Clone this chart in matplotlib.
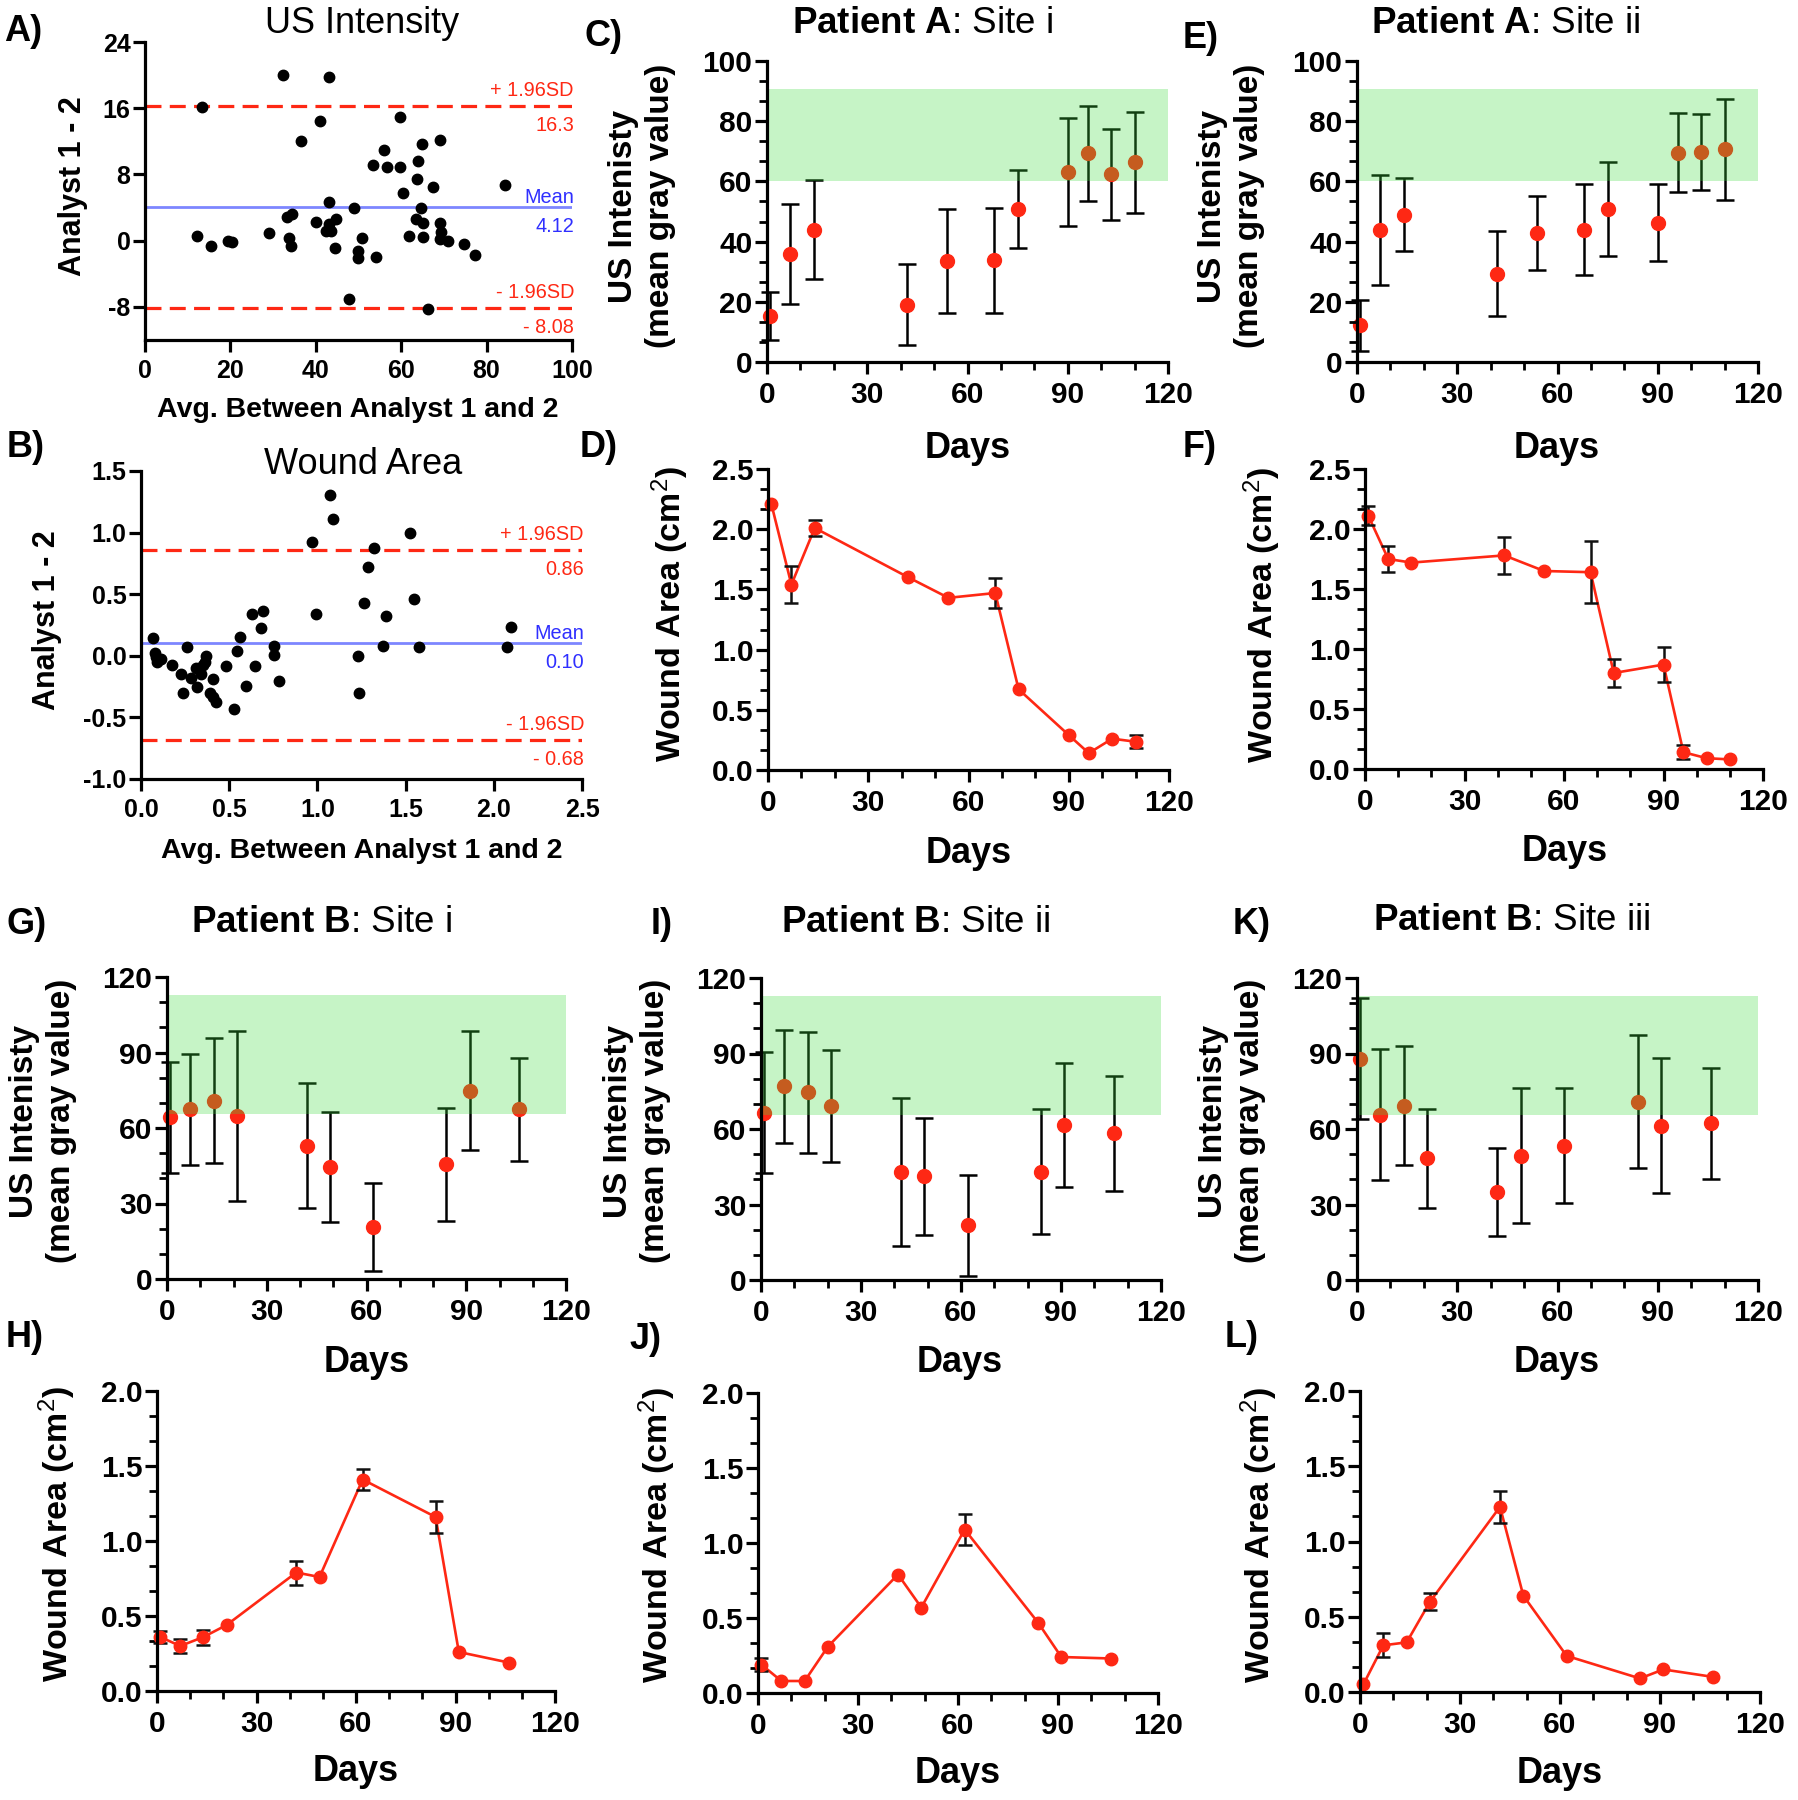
import numpy as np
import matplotlib
matplotlib.use('Agg')
import matplotlib.pyplot as plt
from matplotlib.ticker import MultipleLocator

plt.rcParams.update({
    'font.family': ['Liberation Sans', 'DejaVu Sans'],
    'mathtext.fontset': 'custom',
    'mathtext.rm': 'Liberation Sans',
    'mathtext.bf': 'Liberation Sans:bold',
    'mathtext.it': 'Liberation Sans:italic',
    'axes.unicode_minus': False,
})

# ---------------- data ----------------
# Bland-Altman: US intensity
ba_us_avg = [12.1, 13.3, 15.5, 19.5, 20.4, 29.0, 32.4, 33.2, 34.5, 33.8, 34.1, 36.6, 40.0, 41.1, 43.2,
             43.0, 42.3, 43.0, 43.6, 44.8, 44.6, 48.9, 47.8, 49.8, 49.9, 50.9, 54.1, 53.4, 55.9, 56.7,
             59.8, 59.8, 60.5, 61.9, 63.9, 63.8, 63.5, 64.8, 64.7, 65.0, 65.0, 66.2, 67.5, 69.0, 69.1,
             69.3, 69.1, 70.9, 74.6, 77.4, 84.3]
ba_us_diff = [0.6, 16.2, -0.6, -0.1, -0.2, 0.9, 20.0, 2.9, 3.2, 0.3, -0.6, 12.0, 2.2, 14.4, 19.8,
              4.7, 1.2, 2.0, 1.2, 2.6, -0.9, 3.9, -7.1, -1.3, -2.1, 0.3, -2.0, 9.2, 11.0, 8.9,
              8.9, 14.9, 5.7, 0.6, 9.6, 7.5, 2.6, 11.7, 3.9, 2.1, 0.5, -8.3, 6.5, 12.2, 2.1,
              1.0, 0.2, -0.1, -0.4, -1.7, 6.7]
ba_us_lines = [16.3, 4.12, -8.08]
ba_us_labels = ['16.3', '4.12', '- 8.08']

# Bland-Altman: wound area
ba_wa_avg = [0.069, 0.080, 0.091, 0.113, 0.087, 0.178, 0.228, 0.260, 0.239, 0.286,
             0.312, 0.319, 0.341, 0.352, 0.369, 0.362, 0.391, 0.406, 0.428, 0.406,
             0.482, 0.525, 0.547, 0.562, 0.595, 0.629, 0.645, 0.681, 0.694, 0.753,
             0.755, 0.781, 0.972, 0.992, 1.072, 1.089, 1.230, 1.237, 1.267, 1.289,
             1.319, 1.372, 1.389, 1.524, 1.546, 1.578, 2.077, 2.098]
ba_wa_diff = [0.141, 0.019, -0.049, -0.022, -0.008, -0.076, -0.144, 0.068, -0.301, -0.184,
              -0.103, -0.252, -0.144, -0.076, -0.003, -0.049, -0.306, -0.192, -0.374, -0.333,
              -0.081, -0.428, 0.041, 0.154, -0.247, 0.339, -0.081, 0.222, 0.363, 0.081,
              0.005, -0.203, 0.927, 0.339, 1.306, 1.111, 0.0, -0.301, 0.431, 0.718,
              0.873, 0.081, 0.322, 1.0, 0.458, 0.068, 0.073, 0.236]
ba_wa_lines = [0.86, 0.10, -0.68]
ba_wa_labels = ['0.86', '0.10', '- 0.68']

# Patient A
days_A = [1, 7, 14, 42, 54, 68, 75, 90, 96, 103, 110]
band_A = [60, 90.6]
usA_i_mean = [15.2, 36.0, 44.0, 19.1, 33.6, 33.8, 50.8, 63.2, 69.3, 62.3, 66.3]
usA_i_sd = [7.9, 16.6, 16.5, 13.4, 17.3, 17.5, 13.0, 18.0, 15.7, 15.2, 16.8]
usA_ii_mean = [12.2, 43.8, 49.0, 29.4, 42.7, 44.0, 50.7, 46.2, 69.6, 69.8, 70.6]
usA_ii_sd = [8.5, 18.3, 12.1, 14.0, 12.3, 15.0, 15.6, 12.8, 13.2, 12.5, 16.8]
waA_i_mean = [2.21, 1.54, 2.01, 1.60, 1.43, 1.47, 0.67, 0.29, 0.14, 0.26, 0.235]
waA_i_sd = [0, 0.155, 0.07, 0, 0, 0.125, 0, 0, 0, 0, 0.055]
waA_ii_mean = [2.11, 1.75, 1.72, 1.78, 1.65, 1.64, 0.80, 0.87, 0.14, 0.09, 0.08]
waA_ii_sd = [0.08, 0.11, 0, 0.155, 0, 0.26, 0.12, 0.145, 0.06, 0, 0]

# Patient B
days_B = [1, 7, 14, 21, 42, 49, 62, 84, 91, 106]
band_B = [65.5, 113]
usB_i_mean = [64.3, 67.4, 70.9, 64.7, 53.0, 44.4, 20.6, 45.5, 74.9, 67.4]
usB_i_sd = [22.1, 22.1, 24.9, 33.8, 24.7, 21.8, 17.5, 22.4, 23.7, 20.4]
usB_ii_mean = [66.4, 76.9, 74.6, 69.0, 43.0, 41.2, 21.8, 43.0, 61.6, 58.3]
usB_ii_sd = [24.0, 22.3, 24.1, 22.3, 29.4, 23.2, 20.1, 24.9, 24.8, 22.8]
usB_iii_mean = [87.9, 65.6, 69.3, 48.3, 34.8, 49.4, 53.4, 70.9, 61.3, 62.3]
usB_iii_sd = [24.0, 26.0, 23.6, 19.6, 17.5, 26.8, 22.7, 26.3, 26.8, 22.0]
waB_i_mean = [0.36, 0.30, 0.36, 0.44, 0.79, 0.76, 1.41, 1.16, 0.26, 0.19]
waB_i_sd = [0.04, 0.045, 0.05, 0, 0.08, 0, 0.07, 0.105, 0, 0]
waB_ii_mean = [0.19, 0.08, 0.08, 0.31, 0.79, 0.57, 1.09, 0.47, 0.24, 0.23]
waB_ii_sd = [0.045, 0, 0, 0, 0, 0, 0.105, 0, 0, 0]
waB_iii_mean = [0.05, 0.31, 0.33, 0.60, 1.23, 0.64, 0.24, 0.09, 0.15, 0.10]
waB_iii_sd = [0, 0.08, 0, 0.055, 0.105, 0, 0, 0, 0, 0]

# ---------------- style ----------------
RED = '#fe2814'
BLUE_LINE = '#7d86ff'
BLUE_TXT = '#2f2fff'
BAND = (60 / 255, 220 / 255, 60 / 255)
TICK_FS = 21.5
BA_TICK_FS = 18

W, H = 1798, 1800
fig = plt.figure(figsize=(W / 100, H / 100), dpi=100)


def axes_px(l, r, t, b):
    ax = fig.add_axes([l / W, 1 - b / H, (r - l) / W, (b - t) / H])
    ax.patch.set_visible(False)
    return ax


def ftext(x, y, s, **kw):
    return fig.text(x / W, 1 - y / H, s, **kw)


def fmt(v, dec):
    return f'{v:.{dec}f}'


def style(ax, xlim, ylim, xticks, yticks, xdec, ydec, fs, xminor=None, yminor=None):
    ax.set_xlim(*xlim)
    ax.set_ylim(*ylim)
    for s in ['top', 'right']:
        ax.spines[s].set_visible(False)
    for s in ['left', 'bottom']:
        ax.spines[s].set_linewidth(2.3)
    ax.set_xticks(xticks)
    ax.set_xticklabels([fmt(v, xdec) for v in xticks], fontsize=fs, fontweight='bold')
    ax.set_yticks(yticks)
    ax.set_yticklabels([fmt(v, ydec) for v in yticks], fontsize=fs, fontweight='bold')
    if xminor:
        ax.xaxis.set_minor_locator(MultipleLocator(xminor))
    if yminor:
        ax.yaxis.set_minor_locator(MultipleLocator(yminor))
    ax.tick_params(which='major', direction='out', length=8.5, width=2.3)
    ax.tick_params(which='minor', direction='out', length=5.5, width=2.0)
    ax.tick_params(axis='x', which='major', pad=5.5)
    ax.tick_params(axis='y', which='major', pad=2)


def bland_altman(ax, avg, diff, lines, labels):
    up, mean, low = lines
    ax.axhline(up, color=RED, lw=2.3, ls=(0, (5, 2.6)), zorder=2)
    ax.axhline(low, color=RED, lw=2.3, ls=(0, (5, 2.6)), zorder=2)
    ax.axhline(mean, color=BLUE_LINE, lw=2.0, zorder=2)
    ax.plot(avg, diff, 'o', color='black', ms=7.5, zorder=3, clip_on=False)
    tr = ax.get_yaxis_transform()
    items = [(up, '+ 1.96SD', labels[0], RED, 10),
             (mean, 'Mean', labels[1], BLUE_TXT, 4),
             (low, '- 1.96SD', labels[2], RED, 10)]
    for val, top, bot, col, off in items:
        ax.annotate(top, xy=(1, val), xycoords=tr, xytext=(2, off), textcoords='offset pixels',
                    ha='right', va='baseline', color=col, fontsize=14.3)
        ax.annotate(bot, xy=(1, val), xycoords=tr, xytext=(2, -25), textcoords='offset pixels',
                    ha='right', va='baseline', color=col, fontsize=14.3)


def intensity(ax, days, mean, sd, band, ymax, ymajor, yminor):
    ax.errorbar(days, mean, yerr=sd, fmt='none', ecolor='black', elinewidth=1.8,
                capsize=6.2, capthick=1.8, zorder=1, clip_on=False)
    ax.plot(days, mean, 'o', color=RED, ms=10, zorder=1.5, clip_on=False)
    ax.axhspan(band[0], band[1], xmin=0, xmax=1, color=BAND, alpha=0.29, lw=0, zorder=2.2)
    style(ax, (0, 120), (0, ymax), np.arange(0, 121, 30), np.arange(0, ymax + 0.1, ymajor),
          0, 0, TICK_FS, xminor=10, yminor=yminor)


def wound(ax, days, mean, sd, ymax):
    d = np.array(days, float)
    m = np.array(mean, float)
    s = np.array(sd, float)
    ax.plot(d, m, '-', color=RED, lw=1.9, zorder=1.5, clip_on=False)
    k = s > 0
    ax.errorbar(d[k], m[k], yerr=s[k], fmt='none', ecolor='#111111', elinewidth=1.8,
                capsize=4.8, capthick=1.8, zorder=1.6, clip_on=False)
    ax.plot(d, m, 'o', color=RED, ms=9, zorder=2, clip_on=False)
    style(ax, (0, 120), (0, ymax), np.arange(0, 121, 30), np.arange(0, ymax + 0.01, 0.5),
          0, 1, TICK_FS, xminor=10, yminor=0.5 / 3)


# ---------------- panels ----------------
axA = axes_px(145, 572, 42, 340)
bland_altman(axA, ba_us_avg, ba_us_diff, ba_us_lines, ba_us_labels)
style(axA, (0, 100), (-12, 24), np.arange(0, 101, 20), [-8, 0, 8, 16, 24], 0, 0, BA_TICK_FS)

axB = axes_px(141, 582, 471, 779)
bland_altman(axB, ba_wa_avg, ba_wa_diff, ba_wa_lines, ba_wa_labels)
style(axB, (0, 2.5), (-1, 1.5), np.arange(0, 2.51, 0.5), np.arange(-1, 1.51, 0.5), 1, 1, BA_TICK_FS)

axC = axes_px(767, 1168, 61, 362)
intensity(axC, days_A, usA_i_mean, usA_i_sd, band_A, 100, 20, 20 / 3)
axE = axes_px(1357, 1758, 61, 362)
intensity(axE, days_A, usA_ii_mean, usA_ii_sd, band_A, 100, 20, 20 / 3)
axD = axes_px(768, 1169, 469, 770)
wound(axD, days_A, waA_i_mean, waA_i_sd, 2.5)
axF = axes_px(1365, 1763, 469, 769)
wound(axF, days_A, waA_ii_mean, waA_ii_sd, 2.5)

axG = axes_px(167, 566, 977, 1279)
intensity(axG, days_B, usB_i_mean, usB_i_sd, band_B, 120, 30, 10)
axI = axes_px(761, 1161, 978, 1280)
intensity(axI, days_B, usB_ii_mean, usB_ii_sd, band_B, 120, 30, 10)
axK = axes_px(1357, 1758, 978, 1280)
intensity(axK, days_B, usB_iii_mean, usB_iii_sd, band_B, 120, 30, 10)
axH = axes_px(157, 555, 1391, 1691)
wound(axH, days_B, waB_i_mean, waB_i_sd, 2.0)
axJ = axes_px(758, 1158, 1393, 1693)
wound(axJ, days_B, waB_ii_mean, waB_ii_sd, 2.0)
axL = axes_px(1360, 1760, 1391, 1692)
wound(axL, days_B, waB_iii_mean, waB_iii_sd, 2.0)

# ---------------- texts ----------------
US_LAB = 'US Intenisty\n(mean gray value)'
WA_LAB = 'Wound Area (cm$^2$)'
for (x, y) in [(642, 206), (1231, 206), (43, 1121), (637, 1121), (1232, 1121)]:
    ftext(x, y, US_LAB, rotation=90, ha='center', va='center', fontsize=24,
          fontweight='bold', multialignment='center', linespacing=1.22)
for (x, y) in [(670, 614), (1262, 615), (57, 1534), (657, 1535), (1259, 1535)]:
    ftext(x, y, WA_LAB, rotation=90, ha='center', va='center', fontsize=24.5, fontweight='bold')
ftext(73, 186, 'Analyst 1 - 2', rotation=90, ha='center', va='center', fontsize=22, fontweight='bold')
ftext(47, 620, 'Analyst 1 - 2', rotation=90, ha='center', va='center', fontsize=22, fontweight='bold')

for (x, y) in [(968, 458), (969, 863), (1557, 458), (1565, 861), (367, 1372), (356, 1781),
               (960, 1372), (958, 1783), (1557, 1372), (1560, 1783)]:
    ftext(x, y, 'Days', ha='center', va='baseline', fontsize=26, fontweight='bold')
ftext(358, 417, 'Avg. Between Analyst 1 and 2', ha='center', va='baseline', fontsize=20.5, fontweight='bold')
ftext(362, 858, 'Avg. Between Analyst 1 and 2', ha='center', va='baseline', fontsize=20.5, fontweight='bold')

ftext(362, 33, 'US Intensity', ha='center', va='baseline', fontsize=26)
ftext(363, 474, 'Wound Area', ha='center', va='baseline', fontsize=26)
for (x, y, s) in [(922, 33, r'$\mathbf{Patient\ A}$: Site i'), (1506, 33, r'$\mathbf{Patient\ A}$: Site ii'),
                  (321, 932, r'$\mathbf{Patient\ B}$: Site i'), (916, 932, r'$\mathbf{Patient\ B}$: Site ii'),
                  (1512, 930, r'$\mathbf{Patient\ B}$: Site iii')]:
    ftext(x, y, s, ha='center', va='baseline', fontsize=26.5)

for (s, x, y) in [('A)', 4, 41), ('B)', 7, 457), ('C)', 584, 46), ('D)', 580, 457), ('E)', 1183, 48),
                  ('F)', 1183, 457), ('G)', 6, 934), ('H)', 6, 1347), ('I)', 651, 934), ('J)', 629, 1349),
                  ('K)', 1233, 934), ('L)', 1225, 1347)]:
    ftext(x, y, s, ha='left', va='baseline', fontsize=26, fontweight='bold')

fig.savefig('out.png', dpi=100)
